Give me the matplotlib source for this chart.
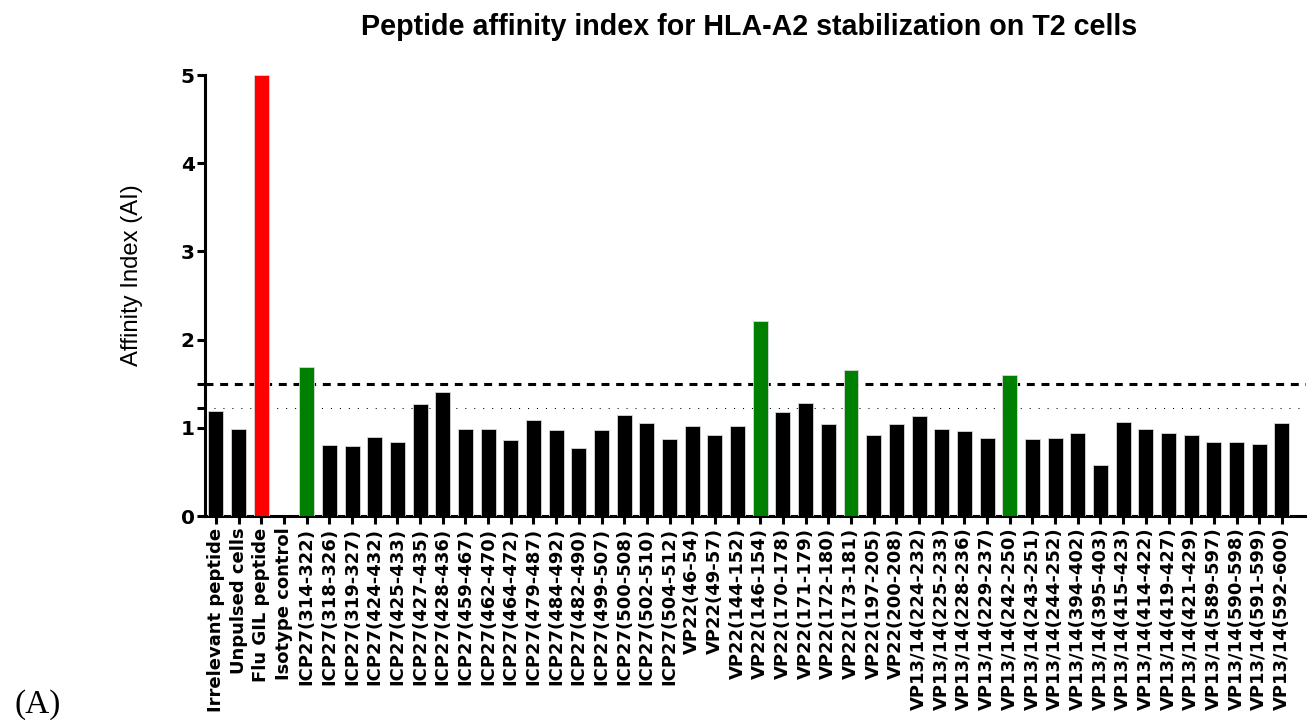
import matplotlib
matplotlib.use("Agg")
import matplotlib.pyplot as plt
from matplotlib.ticker import FixedLocator

# peptides tested and their affinity index on T2 cells
peptides = [
    'Irrelevant peptide', 'Unpulsed cells', 'Flu GIL peptide', 'Isotype control',
    'ICP27(314-322)', 'ICP27(318-326)', 'ICP27(319-327)', 'ICP27(424-432)',
    'ICP27(425-433)', 'ICP27(427-435)', 'ICP27(428-436)', 'ICP27(459-467)',
    'ICP27(462-470)', 'ICP27(464-472)', 'ICP27(479-487)', 'ICP27(484-492)',
    'ICP27(482-490)', 'ICP27(499-507)', 'ICP27(500-508)', 'ICP27(502-510)',
    'ICP27(504-512)', 'VP22(46-54)', 'VP22(49-57)', 'VP22(144-152)',
    'VP22(146-154)', 'VP22(170-178)', 'VP22(171-179)', 'VP22(172-180)',
    'VP22(173-181)', 'VP22(197-205)', 'VP22(200-208)', 'VP13/14(224-232)',
    'VP13/14(225-233)', 'VP13/14(228-236)', 'VP13/14(229-237)', 'VP13/14(242-250)',
    'VP13/14(243-251)', 'VP13/14(244-252)', 'VP13/14(394-402)', 'VP13/14(395-403)',
    'VP13/14(415-423)', 'VP13/14(414-422)', 'VP13/14(419-427)', 'VP13/14(421-429)',
    'VP13/14(589-597)', 'VP13/14(590-598)', 'VP13/14(591-599)', 'VP13/14(592-600)',
]
affinity = [
    1.19, 0.99, 5.0, 0.0,
    1.69, 0.80, 0.79, 0.90,
    0.84, 1.27, 1.41, 0.99,
    0.99, 0.86, 1.09, 0.97,
    0.77, 0.97, 1.14, 1.06,
    0.87, 1.02, 0.92, 1.02,
    2.21, 1.18, 1.28, 1.04,
    1.65, 0.92, 1.04, 1.13,
    0.99, 0.96, 0.89, 1.60,
    0.87, 0.89, 0.94, 0.58,
    1.07, 0.99, 0.94, 0.92,
    0.84, 0.84, 0.82, 1.06,
]
positive_control = 'Flu GIL peptide'
binders = ['ICP27(314-322)', 'VP22(146-154)', 'VP22(173-181)', 'VP13/14(242-250)']
cutoff_high = 1.5
cutoff_low = 1.22

colors = []
for p in peptides:
    if p == positive_control:
        colors.append('#ff0000')
    elif p in binders:
        colors.append('#008000')
    else:
        colors.append('black')

fig = plt.figure(figsize=(13.07, 7.22), dpi=100)
ax = fig.add_axes([0.1568, 0.2853, 0.8424, 0.6108])

x = range(len(peptides))
ax.bar(x, affinity, width=0.66, color=colors, edgecolor='#d8d8d8', linewidth=0.6, zorder=3)

# cut-off lines sit behind the bars
ax.axhline(cutoff_high, color='black', linewidth=2.2, linestyle=(0, (2.6, 2.2)), zorder=1)
ax.axhline(cutoff_low, color='black', linewidth=0.75, linestyle=(0, (1, 7.6)), zorder=1)

ax.set_xlim(-0.485, 48.06)
ax.set_ylim(0, 5)
ax.set_xticks(list(x))
ax.set_xticklabels(peptides, rotation=90, fontfamily='DejaVu Sans',
                   fontweight='bold', fontsize=13)
ax.set_yticks([0, 1, 2, 3, 4, 5])
ax.set_yticklabels(['0', '1', '2', '3', '4', '5'], fontfamily='DejaVu Sans',
                   fontweight='bold', fontsize=14.5)
ax.yaxis.set_minor_locator(FixedLocator([cutoff_low, cutoff_high]))

for side in ['top', 'right']:
    ax.spines[side].set_visible(False)
for side in ['left', 'bottom']:
    ax.spines[side].set_linewidth(2.2)
ax.tick_params(axis='y', which='both', length=5.8, width=2.2, pad=1.5)
ax.tick_params(axis='x', length=5.8, width=2.2, pad=2.5)

fig.text(0.573, 0.9515, 'Peptide affinity index for HLA-A2 stabilization on T2 cells',
         fontfamily='Liberation Sans', fontweight='bold', fontsize=20.6,
         ha='center', va='baseline')
fig.text(132 / 1307, 1 - 275 / 722, 'Affinity Index (AI)', rotation=90,
         fontfamily='Liberation Sans', fontsize=17.2, ha='center', va='center')
fig.text(14 / 1307, 1 - 713 / 722, '(A)', fontfamily='Liberation Serif',
         fontsize=24, ha='left', va='baseline')

plt.savefig('out.png', dpi=100)
